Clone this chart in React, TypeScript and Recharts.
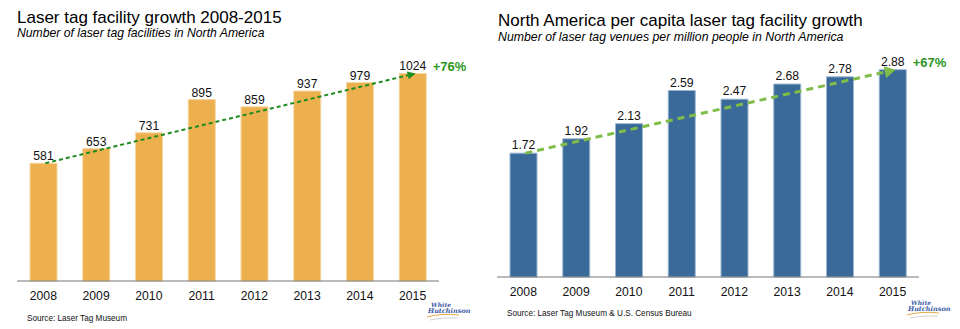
import React from 'react';
import { BarChart, Bar, XAxis, YAxis, LabelList, ReferenceLine } from 'recharts';

// ---- data ----
const years = ['2008', '2009', '2010', '2011', '2012', '2013', '2014', '2015'];
const facilities = [581, 653, 731, 895, 859, 937, 979, 1024];
const perMillion = [1.72, 1.92, 2.13, 2.59, 2.47, 2.68, 2.78, 2.88];
const growthLeft = '+76%';
const growthRight = '+67%';

const leftTitle = 'Laser tag facility growth 2008-2015';
const leftSubtitle = 'Number of laser tag facilities in North America';
const leftSource = 'Source: Laser Tag Museum';
const rightTitle = 'North America per capita laser tag facility growth';
const rightSubtitle = 'Number of laser tag venues per million people in North America';
const rightSource = 'Source: Laser Tag Museum & U.S. Census Bureau';

const leftData = years.map((y, i) => ({ year: y, value: facilities[i] }));
const rightData = years.map((y, i) => ({ year: y, value: perMillion[i] }));

const FONT = '"Liberation Sans", Arial, Helvetica, sans-serif';
const GREEN_TEXT = '#2f961f';

const makeArrow =
  (color: string, width: number, dash: string, headLen: number, headHalf: number, label: string) =>
  (props: any) => {
    const { x1, y1, x2, y2 } = props;
    const tx = x2 + 3;
    const ang = Math.atan2(y2 - y1, tx - x1);
    const bx = tx - headLen * Math.cos(ang);
    const by = y2 - headLen * Math.sin(ang);
    const px = -Math.sin(ang) * headHalf;
    const py = Math.cos(ang) * headHalf;
    return (
      <g>
        <line x1={x1 + 2} y1={y1} x2={bx} y2={by} stroke={color} strokeWidth={width} strokeDasharray={dash} />
        <polygon points={`${tx},${y2} ${bx + px},${by + py} ${bx - px},${by - py}`} fill={color} />
        <text x={x2 + 20} y={y2 - 2.5} fill={GREEN_TEXT} fontSize={13} fontWeight="bold" fontFamily={FONT}>
          {label}
        </text>
      </g>
    );
  };

const Logo = ({ x, y }: { x: number; y: number }) => (
  <g transform={`translate(${x},${y})`}>
    <text x={4} y={5} fontSize={6} fontStyle="italic" fontWeight="bold" fill="#3b5aa6" fontFamily="'DejaVu Serif', serif">
      White
    </text>
    <text x={1} y={11} fontSize={6.5} fontStyle="italic" fontWeight="bold" fill="#3b5aa6" fontFamily="'DejaVu Serif', serif">
      Hutchinson
    </text>
    <path d="M0,15 Q14,11 32,13" stroke="#e8a94a" strokeWidth={1} fill="none" />
    <path d="M3,18 Q16,15 31,16" stroke="#c8c8c8" strokeWidth={0.8} fill="none" />
  </g>
);

export default function App() {
  return (
    <div style={{ position: 'absolute', left: 0, top: 0, width: 960, height: 329, background: '#fff', fontFamily: FONT }}>
      <div style={{ position: 'absolute', left: 0, top: 0 }}>
        <BarChart width={480} height={329} data={leftData} margin={{ top: 58, right: 41, left: 17, bottom: 18 }} style={{ fontFamily: FONT }}>
          <XAxis
            dataKey="year"
            axisLine={{ stroke: '#777', strokeWidth: 1.2 }}
            tickLine={false}
            tickMargin={4}
            height={30}
            tick={{ fontSize: 12.2, fill: '#111' }}
          />
          <YAxis hide domain={[0, 1100]} />
          <Bar dataKey="value" fill="#edb04f" stroke="#f5d7a0" strokeWidth={1} barSize={27} isAnimationActive={false}>
            <LabelList dataKey="value" position="top" offset={3} fill="#111" fontSize={12.2} />
          </Bar>
          <ReferenceLine
            segment={[
              { x: years[0], y: facilities[0] },
              { x: years[years.length - 1], y: facilities[facilities.length - 1] },
            ]}
            ifOverflow="visible"
            shape={makeArrow('#1f8c1f', 2, '4 3', 8, 4, growthLeft)}
          />
        </BarChart>
      </div>
      <div style={{ position: 'absolute', left: 480, top: 0 }}>
        <BarChart width={480} height={329} data={rightData} margin={{ top: 61, right: 41, left: 17, bottom: 22 }} style={{ fontFamily: FONT }}>
          <XAxis
            dataKey="year"
            axisLine={{ stroke: '#777', strokeWidth: 1.2 }}
            tickLine={false}
            tickMargin={4}
            height={30}
            tick={{ fontSize: 12.2, fill: '#111' }}
          />
          <YAxis hide domain={[0, 3]} />
          <Bar dataKey="value" fill="#3a6a9a" stroke="#9bb6d0" strokeWidth={1} barSize={27} isAnimationActive={false}>
            <LabelList dataKey="value" position="top" offset={4} fill="#111" fontSize={12.2} />
          </Bar>
          <ReferenceLine
            segment={[
              { x: years[0], y: perMillion[0] },
              { x: years[years.length - 1], y: perMillion[perMillion.length - 1] },
            ]}
            ifOverflow="visible"
            shape={makeArrow('#80bd48', 3, '7 5', 11, 6, growthRight)}
          />
        </BarChart>
      </div>
      <svg width={960} height={329} style={{ position: 'absolute', left: 0, top: 0, pointerEvents: 'none' }}>
        <g fontFamily={FONT}>
          <text x={17} y={23.3} fontSize={17} fill="#000">{leftTitle}</text>
          <text x={17} y={37.3} fontSize={12.2} fontStyle="italic" fill="#000">{leftSubtitle}</text>
          <text x={27} y={321} fontSize={8.2} fill="#111">{leftSource}</text>
          <text x={498} y={26} fontSize={17} fill="#000">{rightTitle}</text>
          <text x={498} y={40.5} fontSize={12.3} fontStyle="italic" fill="#000">{rightSubtitle}</text>
          <text x={507} y={316} fontSize={8.2} fill="#111">{rightSource}</text>
        </g>
        <Logo x={427} y={302} />
        <Logo x={907} y={300} />
      </svg>
    </div>
  );
}
